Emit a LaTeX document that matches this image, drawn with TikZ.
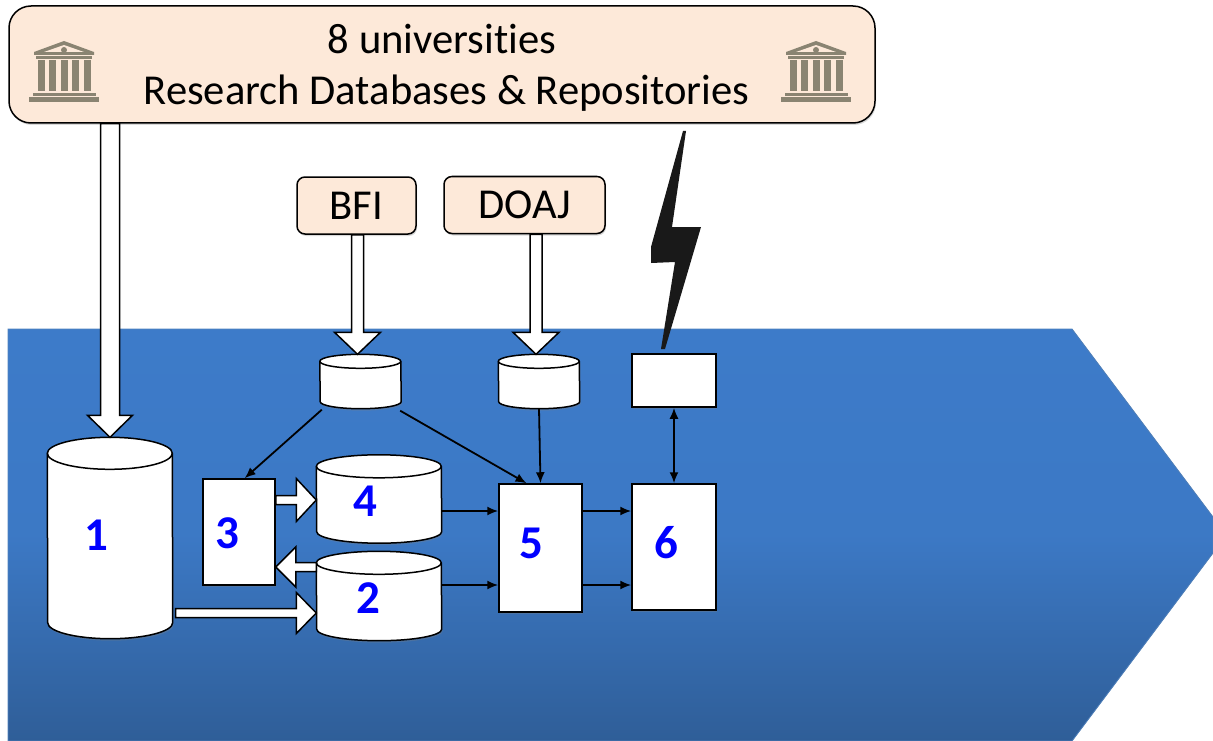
\documentclass[tikz,border=0pt]{standalone}
\usepackage{fontspec}
\setmainfont[Ligatures=NoCommon]{Carlito}
\usepackage{xcolor}
\usetikzlibrary{shadows,calc,arrows.meta}

\definecolor{boxfill}{HTML}{FDE9D9}
\definecolor{iconfill}{HTML}{8A8472}
\definecolor{bandtop}{HTML}{3D7BC9}
\definecolor{bandbot}{HTML}{2F5E98}
\definecolor{bandedge}{HTML}{4F81BD}

\tikzset{
	softshadow/.style={drop shadow={opacity=.3,shadow xshift=1pt,shadow yshift=-2pt}},
	sourcetext/.style={font=\fontsize{42.6}{51}\selectfont},
	sourcebox/.style={draw=black,line width=1.5pt,fill=boxfill,rounded corners=8pt,softshadow,sourcetext},
	whitebox/.style={draw=black,line width=1.5pt,fill=white,softshadow},
	cylline/.style={draw=black,line width=1.5pt},
	numlabel/.style={text=blue,font=\fontsize{47}{47}\selectfont\bfseries},
	thinarrow/.style={-{Latex[length=11pt,width=9pt]},line width=1.8pt},
	blockto/.style args={#1/#2/#3}{draw=black,fill=white,line width=1.5pt,to path={
		let \p1=($(\tikztotarget)!#3pt!(\tikztostart)$) in
		($(\tikztostart)!#1pt!90:(\tikztotarget)$) -- ($(\p1)!#1pt!90:(\tikztotarget)$)
		-- ($(\p1)!#2pt!90:(\tikztotarget)$) -- (\tikztotarget)
		-- ($(\p1)!#2pt!-90:(\tikztotarget)$) -- ($(\p1)!#1pt!-90:(\tikztotarget)$)
		-- ($(\tikztostart)!#1pt!-90:(\tikztotarget)$) -- cycle}},
	temple/.pic={
		\fill[iconfill] (0,-31) -- (30,-20) -- (30,-17) -- (-30,-17) -- (-30,-20) -- cycle;
		\fill[boxfill] (0,-27) -- (20,-20) -- (-20,-20) -- cycle;
		\fill[iconfill] (0,-22) circle(3);
		\fill[iconfill] (-28,-16) rectangle (28,-13);
		\foreach \c in {-23,-11.5,0,11.5,23}
			\fill[iconfill] (\c-3.5,-12) rectangle (\c+3.5,19);
		\fill[iconfill] (-31,21) rectangle (32,24);
		\fill[iconfill] (-35,25.5) rectangle (35,30);
	}
}

% name, x, y, width, height, radius of the end curve
\newcommand{\storecyl}[6]{
	\node[minimum width=#4pt,minimum height=#5pt,inner sep=0pt] (#1) at (#2,#3) {};
	\path[cylline,fill=white,softshadow] ([yshift=-#6pt]#1.north west) arc[start angle=180,end angle=0,x radius=#4pt/2,y radius=#6pt]
		-- ([yshift=#6pt]#1.south east) arc[start angle=0,end angle=-180,x radius=#4pt/2,y radius=#6pt] -- cycle;
	\draw[cylline] ([yshift=-#6pt]#1.north west) arc[start angle=180,end angle=360,x radius=#4pt/2,y radius=#6pt];
}

\begin{document}
\begin{tikzpicture}[x=1pt,y=-1pt]
	\useasboundingbox (0,0) rectangle (1213,741);

	%Band
	\fill[top color=bandtop,bottom color=bandbot,middle color=bandtop!92!bandbot,draw=bandedge,line width=.8pt]
		(8,329) -- (1072,329) -- (1213,517) -- (1213,553) -- (1072,741) -- (8,741) -- cycle;

	%Sources
	\node[sourcebox,rounded corners=22pt,minimum width=866pt,minimum height=117pt] (unis) at (442,64.5) {};
	\node[sourcetext] (unisline1) at (442,39.5) {8 universities};
	\node[sourcetext] (unisline2) at (446.5,93) {Research Databases \& Repositories};
	\pic at (64,72) {temple};
	\pic at (816,72) {temple};
	\node[sourcebox,minimum width=119pt,minimum height=57pt] (bfi) at (356.5,205.5) {BFI};
	\node[sourcebox,minimum width=161pt,minimum height=57pt] (doaj) at (524.5,205) {DOAJ};

	%Lightning
	\fill[black!90] (683,131) -- (686,131) -- (672,227) -- (701,227) -- (665,349) -- (661,349) -- (675,262) -- (651,263) -- (651,247) -- cycle;

	%Stores
	\storecyl{store1}{110}{538}{125}{201}{16}
	\storecyl{store4}{379}{499}{125}{88}{11.5}
	\storecyl{store2}{379}{596}{125}{89}{11.5}
	\storecyl{bficyl}{360.5}{381.5}{81}{54}{7}
	\storecyl{doajcyl}{539}{381.5}{81}{54}{7}

	%Boxes
	\node[whitebox,minimum width=72pt,minimum height=106pt] (box3) at (239,532) {};
	\node[whitebox,minimum width=83pt,minimum height=128pt] (box5) at (540.5,548) {};
	\node[whitebox,minimum width=84pt,minimum height=126pt] (box6) at (674,547) {};
	\node[whitebox,minimum width=84pt,minimum height=53pt] (ext) at (674,380.5) {};

	%Block arrows
	\draw[blockto=9.5/22.5/22] (store1.north |- unis.south) to (store1.north);
	\draw[blockto=6/23/22] ([xshift=1pt]bfi.south) to ([xshift=1pt]bfi.south |- bficyl.north);
	\draw[blockto=6/23/22] ([xshift=-3pt]doajcyl.north |- doaj.south) to ([xshift=-3pt]doajcyl.north);
	\draw[blockto=4.5/20.5/20] ([xshift=3pt,yshift=-75pt]store1.east) to ([yshift=-17pt]store2.west);
	\draw[blockto=4.5/21.5/20] ([yshift=-1pt]box3.east |- store4.west) to ([yshift=-1pt]store4.west);
	\draw[blockto=4.5/20/20] ([yshift=29pt]store2.west) to ([yshift=29pt]store2.west -| box3.east);

	%Lines
	\draw[thinarrow] ([xshift=2pt,yshift=-1pt]bficyl.south west) -- (box3.84);
	\draw[thinarrow] ([xshift=-1pt,yshift=-2pt]bficyl.south east) -- ([xshift=-14pt]box5.north);
	\draw[thinarrow] (doajcyl.south) -- (box5.north);
	\draw[thinarrow] ([yshift=-12pt]store4.east) -- ([yshift=-12pt]store4.east -| box5.west);
	\draw[thinarrow] ([yshift=11pt]store2.east) -- ([yshift=11pt]store2.east -| box5.west);
	\draw[thinarrow] ([yshift=37pt]box5.east) -- ([yshift=37pt]box5.east -| box6.west);
	\draw[thinarrow] ([yshift=-37pt]box5.east) -- ([yshift=-37pt]box5.east -| box6.west);
	\draw[thinarrow,{Latex[length=11pt,width=9pt]}-{Latex[length=11pt,width=9pt]}] (box6.north) -- (ext.south);

	%Numbers
	\node[numlabel] (num1) at (96,535) {1};
	\node[numlabel] (num2) at (368,598) {2};
	\node[numlabel] (num3) at (227,533) {3};
	\node[numlabel] (num4) at (365,501) {4};
	\node[numlabel] (num5) at (531,543) {5};
	\node[numlabel] (num6) at (666,543) {6};
\end{tikzpicture}
\end{document}
